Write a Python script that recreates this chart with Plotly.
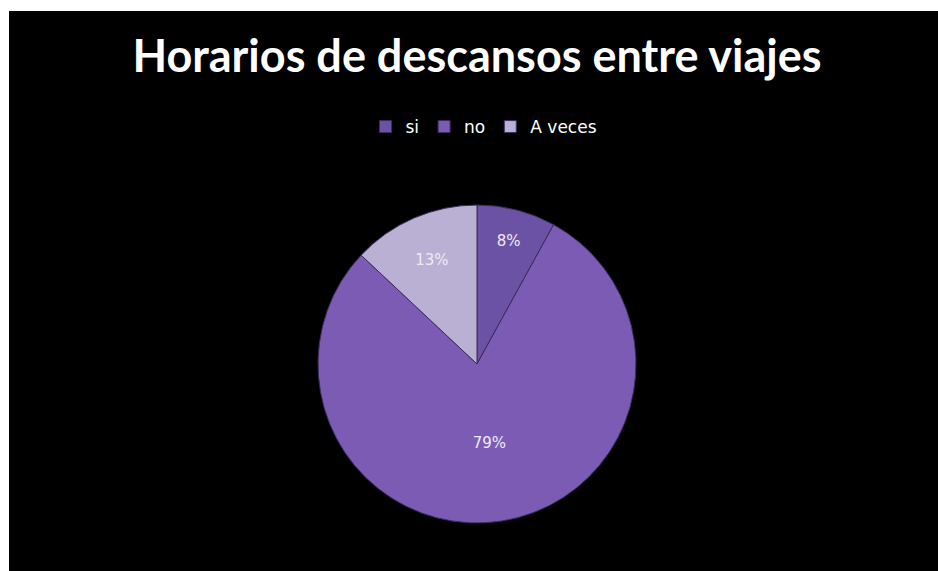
import plotly.graph_objects as go

categories = ["si", "no", "A veces"]
values = [8, 79, 13]
colors = ["#6c52a4", "#7b5bb4", "#b9b0d3"]
title_text = "Horarios de descansos entre viajes"

W, H = 938, 571

fig = go.Figure()
fig.add_trace(go.Pie(
    labels=categories,
    values=values,
    sort=False,
    direction="clockwise",
    rotation=0,
    marker=dict(colors=colors, line=dict(color="#3b2d5e", width=1)),
    texttemplate="%{percent:.0%}",
    textposition="inside",
    insidetextorientation="horizontal",
    textfont=dict(family="DejaVu Sans", size=15, color="#eeeaf5"),
    hoverinfo="label+percent",
    domain=dict(x=[(477 - 159) / W, (477 + 159) / W],
                y=[(H - 364 - 159) / H, (H - 364 + 159) / H]),
))

fig.update_layout(
    width=W, height=H,
    margin=dict(l=0, r=0, t=0, b=0),
    paper_bgcolor="white",
    plot_bgcolor="black",
    title=dict(text="<b>" + title_text + "</b>",
               x=477 / W, xanchor="center",
               y=1 - 56 / H, yanchor="middle",
               font=dict(family="Lato", size=45, color="white")),
    legend=dict(orientation="h", x=484 / W, xanchor="center",
                y=1 - 127 / H, yanchor="middle",
                font=dict(family="DejaVu Sans", size=17, color="white"),
                bgcolor="rgba(0,0,0,0)", itemwidth=30),
    shapes=[dict(type="rect", xref="paper", yref="paper",
                 x0=9 / W, x1=1, y0=0, y1=1 - 11 / H,
                 fillcolor="black", line=dict(width=0), layer="below")],
)

fig.write_html("out.html")
